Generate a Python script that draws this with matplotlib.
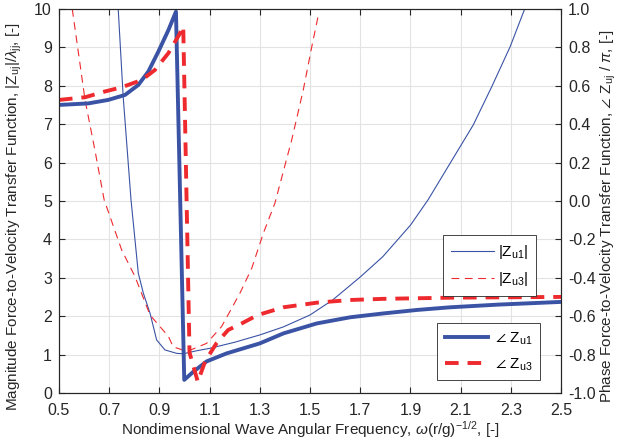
import numpy as np
import matplotlib
matplotlib.use('Agg')
import matplotlib.pyplot as plt

plt.rcParams['font.family'] = ['Liberation Sans', 'DejaVu Sans']
plt.rcParams['mathtext.fontset'] = 'custom'
plt.rcParams['mathtext.rm'] = 'Liberation Sans'
plt.rcParams['mathtext.it'] = 'Liberation Sans:italic'

# magnitude |Zu1| (thin blue)
mag1_x = [0.736, 0.756, 0.787, 0.816, 0.836, 0.863, 0.889, 0.922, 0.969, 0.995, 1.05, 1.10,
          1.20, 1.30, 1.394, 1.5, 1.59, 1.70, 1.79, 1.9, 1.97, 2.09, 2.15, 2.224, 2.297, 2.353]
mag1_y = [10.0, 7.7, 5.03, 3.12, 2.6, 2.07, 1.38, 1.12, 1.03, 1.02, 1.1, 1.16,
          1.32, 1.51, 1.72, 2.03, 2.42, 3.02, 3.55, 4.37, 5.03, 6.33, 6.98, 7.98, 9.02, 9.97]
# magnitude |Zu3| (thin red dashed)
mag3_x = [0.553, 0.604, 0.643, 0.68, 0.75, 0.803, 0.8625, 0.936, 0.955, 1.01, 1.088, 1.148,
          1.221, 1.268, 1.314, 1.36, 1.427, 1.473, 1.507, 1.533]
mag3_y = [10.0, 7.63, 6.33, 5.03, 3.72, 3.03, 2.03, 1.47, 1.2, 1.08, 1.29, 1.73,
          2.6, 3.25, 4.16, 4.94, 6.59, 7.89, 9.02, 9.84]
# phase of Zu1 / pi (thick blue)
ph1_x = [0.5, 0.617, 0.696, 0.763, 0.816, 0.856, 0.896, 0.936, 0.966, 0.999, 1.035, 1.088,
         1.168, 1.30, 1.394, 1.527, 1.66, 1.792, 1.925, 2.058, 2.25, 2.5]
ph1_y = [0.50, 0.508, 0.526, 0.552, 0.604, 0.674, 0.778, 0.89, 0.986, -0.932, -0.89, -0.836,
         -0.794, -0.742, -0.69, -0.638, -0.606, -0.586, -0.568, -0.554, -0.54, -0.526]
# phase of Zu3 / pi (thick red dashed)
ph3_x = [0.5, 0.604, 0.683, 0.75, 0.83, 0.882, 0.936, 0.978, 0.995, 1.02, 1.053, 1.082,
         1.128, 1.174, 1.228, 1.29, 1.394, 1.527, 1.66, 1.792, 2.058, 2.5]
ph3_y = [0.526, 0.54, 0.57, 0.592, 0.63, 0.682, 0.77, 0.864, 0.91, -0.79, -0.942, -0.836,
         -0.74, -0.672, -0.638, -0.595, -0.554, -0.53, -0.516, -0.51, -0.504, -0.5]

blue = '#3a53a4'
red = '#ee2a2e'
dark = '#262626'

fig = plt.figure(figsize=(6.27, 4.47), dpi=100)
ax = fig.add_axes([0.094, 0.121, 0.801, 0.859])
ax2 = ax.twinx()

l1, = ax.plot(mag1_x, mag1_y, color=blue, lw=0.8, label=r'|Z$_{\mathrm{u1}}$|')
l3, = ax.plot(mag3_x, mag3_y, color=red, lw=0.8, ls=(0, (7, 5)), label=r'|Z$_{\mathrm{u3}}$|')
p1, = ax2.plot(ph1_x, ph1_y, color=blue, lw=2.8, label=r'$\angle$ Z$_{\mathrm{u1}}$')
p3, = ax2.plot(ph3_x, ph3_y, color=red, lw=2.8, ls=(0, (3.5, 2.3)), label=r'$\angle$ Z$_{\mathrm{u3}}$')

xt = np.round(np.arange(0.5, 2.51, 0.2), 1)
ax.set_xlim(0.5, 2.5)
ax.set_ylim(0, 10)
ax2.set_ylim(-1, 1)
ax.set_xticks(xt)
ax.set_xticklabels(['%.1f' % v for v in xt])
ax.set_yticks(range(0, 11))
yt2 = np.round(np.arange(-1, 1.01, 0.2), 1)
ax2.set_yticks(yt2)
ax2.set_yticklabels(['%.1f' % (v + 0.0) for v in yt2])

ax.grid(True, color='#e3e3e3', lw=0.8)
ax.set_axisbelow(True)
for a in (ax, ax2):
    a.tick_params(direction='in', length=4, width=0.8, colors=dark, labelsize=11.5)
    for s in a.spines.values():
        s.set_color(dark)
ax.tick_params(axis='x', top=True, pad=7)
ax.tick_params(axis='y', pad=5)
ax2.tick_params(axis='y', pad=5)

ax.set_xlabel(r'Nondimensional Wave Angular Frequency, $\omega$(r/g)$^{\mathrm{-1/2}}$, [-]',
              fontsize=11, color=dark, labelpad=1)
ax.set_ylabel(r'Magnitude Force-to-Velocity Transfer Function, |Z$_{\mathrm{uj}}$|/$\lambda_{\mathrm{jj}}$, [-]',
              fontsize=11, color=dark)
ax.yaxis.set_label_coords(-0.07, 0.46)
ax2.set_ylabel(r'Phase Force-to-Velocity Transfer Function, $\angle$ Z$_{\mathrm{uj}}$ / $\pi$, [-]',
               fontsize=11, color=dark)
ax2.yaxis.set_label_coords(1.074, 0.46)

leg1 = ax2.legend(handles=[l1, l3], loc='upper right', bbox_to_anchor=(0.966, 0.43),
                  fancybox=False, edgecolor=dark, framealpha=1, fontsize=11,
                  handlelength=2.8, handletextpad=0.3, borderpad=0.5, labelspacing=0.6)
leg1.get_frame().set_linewidth(0.6)
ax2.add_artist(leg1)
leg2 = ax2.legend(handles=[p1, p3], loc='lower right', bbox_to_anchor=(0.974, 0.013),
                  fancybox=False, edgecolor=dark, framealpha=1, fontsize=11,
                  handlelength=2.8, handletextpad=0.5, borderpad=0.5, labelspacing=0.6)
leg2.get_frame().set_linewidth(0.6)

fig.savefig('out.png', dpi=100)
